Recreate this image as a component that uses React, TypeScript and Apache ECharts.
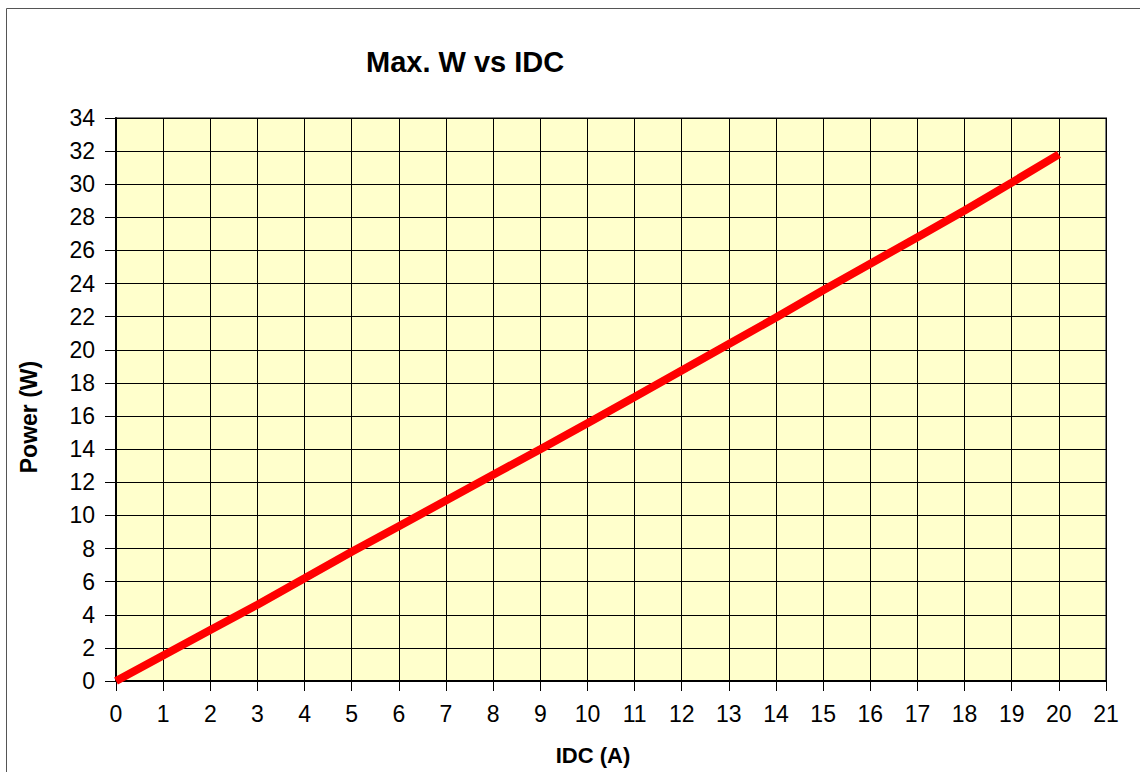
import React, { useEffect, useRef } from "react";
import * as echarts from "echarts";

const currentA = [0, 1, 2, 3, 4, 5, 6, 7, 8, 9, 10, 11, 12, 13, 14, 15, 16, 17, 18, 19, 20];
const powerW = [0, 1.54, 3.08, 4.61, 6.2, 7.8, 9.35, 10.9, 12.45, 14.0, 15.56, 17.15, 18.75, 20.35, 21.95, 23.6, 25.2, 26.8, 28.41, 30.1, 31.8];
const titleText = "Max. W vs IDC";
const xName = "IDC (A)";
const yName = "Power (W)";

const FONT = "'Liberation Sans', Arial, sans-serif";

export default function App() {
  const ref = useRef<HTMLDivElement>(null);
  useEffect(() => {
    if (!ref.current) return;
    const chart = echarts.init(ref.current, null, { renderer: "svg" });
    chart.setOption({
      animation: false,
      backgroundColor: "#ffffff",
      grid: {
        left: 116,
        right: 34,
        top: 118,
        bottom: 91,
        show: true,
        backgroundColor: "#FFFFCC",
        borderColor: "#808080",
        borderWidth: 2,
      },
      xAxis: {
        type: "value",
        min: 0,
        max: 21,
        interval: 1,
        axisLine: { show: true, onZero: false, lineStyle: { color: "#000", width: 2 } },
        axisTick: { show: true, length: 10, lineStyle: { color: "#000", width: 1 } },
        axisLabel: { color: "#000", fontSize: 23, fontFamily: FONT, margin: 21 },
        splitLine: { show: true, lineStyle: { color: "#000", width: 1 } },
      },
      yAxis: {
        type: "value",
        min: 0,
        max: 34,
        interval: 2,
        axisLine: { show: true, onZero: false, lineStyle: { color: "#000", width: 2 } },
        axisTick: { show: true, length: 11, lineStyle: { color: "#000", width: 1 } },
        axisLabel: { color: "#000", fontSize: 23, fontFamily: FONT, margin: 21 },
        splitLine: { show: true, lineStyle: { color: "#000", width: 1 } },
      },
      series: [
        {
          type: "line",
          data: currentA.map((x, i) => [x, powerW[i]]),
          symbol: "none",
          lineStyle: { color: "#FF0000", width: 8, cap: "butt" },
          z: 5,
        },
      ],
      graphic: [
        {
          type: "rect",
          shape: { x: 6.5, y: 8.5, width: 1400, height: 1000 },
          style: { fill: "none", stroke: "#555555", lineWidth: 1 },
          silent: true,
        },
        {
          type: "text",
          x: 366,
          y: 62,
          style: {
            text: titleText,
            font: `bold 29px ${FONT}`,
            fill: "#000",
            textVerticalAlign: "middle",
          },
        },
        {
          type: "text",
          x: 593,
          y: 755,
          style: {
            text: xName,
            font: `bold 22px ${FONT}`,
            fill: "#000",
            textAlign: "center",
            textVerticalAlign: "middle",
          },
        },
        {
          type: "text",
          x: 29,
          y: 417,
          rotation: Math.PI / 2,
          style: {
            text: yName,
            font: `bold 23px ${FONT}`,
            fill: "#000",
            textAlign: "center",
            textVerticalAlign: "middle",
          },
        },
      ],
    });
    return () => chart.dispose();
  }, []);
  return (
    <div
      ref={ref}
      style={{ position: "fixed", left: 0, top: 0, width: 1140, height: 772 }}
    />
  );
}
